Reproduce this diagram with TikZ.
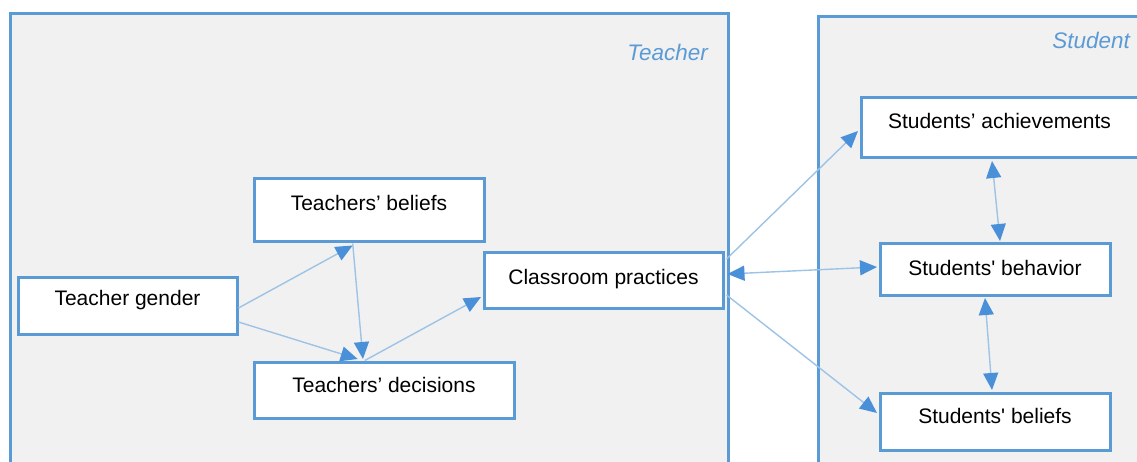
\documentclass[tikz,border=0pt]{standalone}
\usepackage{fontspec}
\setmainfont{Liberation Sans}
\usetikzlibrary{arrows.meta,calc}

\definecolor{frameblue}{HTML}{5B9BD5}
\definecolor{linkblue}{HTML}{9DC3E6}
\definecolor{tipblue}{HTML}{4A90D9}
\definecolor{panelgray}{HTML}{F1F1F1}

\tikzset{
  panel/.style={draw=frameblue, line width=3, fill=panelgray},
  paneltitle/.style={font=\fontsize{22.5}{26}\selectfont\itshape, text=frameblue,
    inner sep=0, anchor=base east},
  box/.style={draw=frameblue, line width=3, fill=white, inner sep=0,
    font=\fontsize{21}{25}\selectfont, text height=15},
  tip/.style={Triangle[length=17,width=15,color=tipblue,fill=tipblue]},
  link/.style={draw=linkblue, line width=1.4, -{Triangle[length=17,width=15,color=tipblue,fill=tipblue]}},
  biglink/.style={draw=linkblue, line width=1.4,
    {Triangle[length=17,width=15,color=tipblue,fill=tipblue]}-{Triangle[length=17,width=15,color=tipblue,fill=tipblue]}},
}

\begin{document}
\begin{tikzpicture}[x=1pt, y=-1pt]
  \useasboundingbox (0,0) rectangle (1137,462);
  \fill[white] (0,0) rectangle (1137,462);

  % two framed areas, running past the lower and right edges
  \begin{scope}
    \clip (0,0) rectangle (1137,462);
    \draw[panel] (10,14) rectangle (728,480);
    \draw[panel] (818,17) rectangle (1160,480);
  \end{scope}
  \node[paneltitle] (teacher) at (708,61) {Teacher};
  \node[paneltitle] (student) at (1130,49) {Student};

  % teacher side
  \node[box, minimum width=219, minimum height=57, text depth=16] (tg) at (127.5,305.5) {Teacher gender};
  \node[box, minimum width=230, minimum height=63, text depth=14] (tb) at (369,210.5) {Teachers’ beliefs};
  \node[box, minimum width=260, minimum height=56, text depth=11] (td) at (384,390) {Teachers’ decisions};
  \node[box, minimum width=239, minimum height=55, text depth=8] (cp) at (603.5,280.5) {Classroom practices};

  % student side
  \begin{scope}
    \clip (0,0) rectangle (1137,462);
    \node[box, minimum width=277, minimum height=60, text depth=13] (sa) at (999.5,128) {Students’ achievements};
  \end{scope}
  \node[box, minimum width=230, minimum height=51, text depth=2] (sb) at (995,269.5) {Students\textquotesingle{} behavior};
  \node[box, minimum width=230, minimum height=57, text depth=12] (sbl) at (995,421.5) {Students\textquotesingle{} beliefs};

  % links inside the teacher area
  \draw[link] ($(tg.east)+(0,2.5)$) -- ($(tb.south west)!0.43!(tb.south east)+(0,2)$);
  \draw[link] ($(tg.east)+(0,16.5)$) -- ($(td.north west)!0.40!(td.north east)+(0,-1.5)$);
  \draw[link] ($(tb.south west)!0.43!(tb.south east)$) -- ($(td.north west)!0.42!(td.north east)+(0,-1.5)$);
  \draw[link] ($(td.north west)!0.427!(td.north east)$) -- ($(cp.west)+(-1.5,16.5)$);

  % links from classroom practices to the student area
  \draw[link] ($(cp.east)+(2,-21.5)$) -- ($(sa.west)+(-1.5,3)$);
  \draw[biglink] ($(cp.east)+(3,-6.5)$) -- ($(sb.west)+(-1.5,-2.5)$);
  \draw[link] ($(cp.east)+(2,14.5)$) -- ($(sbl.west)+(-1.5,-8.5)$);

  % links among the student boxes
  \draw[biglink] ($(sa.south)+(-7.5,1.5)$) -- ($(sb.north)+(5,-1.5)$);
  \draw[biglink] ($(sb.south)+(-10,1.5)$) -- ($(sbl.north)+(-3,-1.5)$);
\end{tikzpicture}
\end{document}
